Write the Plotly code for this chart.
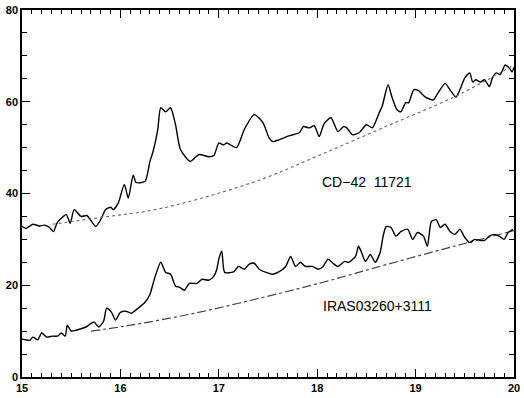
import plotly.graph_objects as go

# CD-42 11721 spectrum
cd_x = [15.00, 15.04, 15.11, 15.18, 15.23, 15.28, 15.32, 15.36, 15.45, 15.49, 15.53, 15.60, 15.66, 15.75,
        15.80, 15.85, 15.90, 15.93, 15.98, 16.04, 16.08, 16.13, 16.16, 16.25, 16.30, 16.33, 16.38, 16.41,
        16.46, 16.51, 16.56, 16.61, 16.71, 16.80, 16.90, 16.95, 17.00, 17.05, 17.08, 17.18, 17.26, 17.36,
        17.45, 17.51, 17.55, 17.61, 17.67, 17.72, 17.82, 17.86, 17.92, 17.97, 18.02, 18.07, 18.14, 18.21,
        18.27, 18.30, 18.36, 18.43, 18.50, 18.56, 18.63, 18.66, 18.72, 18.76, 18.81, 18.85, 18.90, 18.93,
        18.98, 19.03, 19.10, 19.18, 19.23, 19.30, 19.35, 19.41, 19.45, 19.50, 19.55, 19.58, 19.61, 19.66,
        19.70, 19.75, 19.78, 19.82, 19.86, 19.91, 19.95, 19.98, 20.00]
cd_y = [32.8, 32.4, 33.3, 32.9, 33.1, 32.6, 31.7, 33.7, 35.4, 33.5, 36.5, 35.0, 35.2, 32.8,
        34.3, 36.5, 37.0, 36.5, 38.0, 42.0, 39.0, 44.0, 42.4, 42.6, 47.0, 49.0, 54.0, 58.7,
        57.8, 58.7, 55.0, 49.6, 47.0, 48.5, 48.0, 48.3, 51.0, 50.6, 51.0, 50.0, 54.0, 57.2,
        55.4, 52.2, 51.3, 51.7, 52.2, 52.6, 53.3, 54.6, 54.3, 54.8, 52.4, 55.2, 56.5, 53.5,
        54.6, 54.3, 52.8, 53.3, 55.0, 54.3, 57.6, 59.0, 63.7, 61.0, 58.3, 57.8, 59.8, 59.8,
        62.6, 62.4, 61.0, 60.4, 62.0, 64.0, 62.6, 61.0, 62.6, 65.2, 66.3, 64.3, 64.8, 64.3,
        64.8, 63.3, 65.2, 66.3, 65.9, 68.0, 67.4, 66.5, 67.6]

# CD-42 11721 continuum
cdc_x = [15.31, 15.81, 16.31, 16.81, 17.46, 18.05, 18.72, 19.39, 19.73, 20.00]
cdc_y = [33.3, 34.8, 36.3, 38.9, 43.3, 48.6, 54.8, 61.0, 64.8, 68.0]

# IRAS03260+3111 spectrum
ir_x = [15.00, 15.08, 15.11, 15.16, 15.20, 15.25, 15.31, 15.36, 15.40, 15.44, 15.46, 15.50, 15.55, 15.65,
        15.73, 15.78, 15.83, 15.86, 15.91, 15.95, 16.00, 16.06, 16.11, 16.18, 16.25, 16.30, 16.35, 16.41,
        16.46, 16.51, 16.56, 16.60, 16.65, 16.70, 16.78, 16.83, 16.90, 16.95, 16.98, 17.00, 17.03, 17.06,
        17.15, 17.20, 17.26, 17.31, 17.36, 17.41, 17.48, 17.55, 17.61, 17.68, 17.73, 17.78, 17.83, 17.88,
        17.95, 18.01, 18.06, 18.11, 18.16, 18.21, 18.28, 18.32, 18.39, 18.42, 18.45, 18.49, 18.54, 18.59,
        18.64, 18.67, 18.70, 18.75, 18.80, 18.85, 18.92, 18.97, 19.02, 19.08, 19.12, 19.16, 19.21, 19.25,
        19.30, 19.35, 19.40, 19.45, 19.50, 19.55, 19.60, 19.65, 19.70, 19.75, 19.80, 19.85, 19.90, 19.94,
        19.99]
ir_y = [8.3, 8.0, 8.7, 8.1, 9.6, 8.7, 8.9, 8.9, 9.6, 8.9, 11.3, 10.0, 10.2, 10.9,
        12.0, 10.9, 12.2, 15.0, 14.1, 12.4, 14.1, 14.3, 13.9, 15.0, 16.3, 18.0, 21.7, 25.0,
        22.8, 22.4, 19.8, 19.6, 18.9, 20.4, 20.4, 21.3, 21.1, 22.0, 23.5, 25.7, 27.4, 22.8,
        22.9, 24.1, 23.5, 24.6, 24.8, 23.5, 22.8, 22.4, 22.9, 24.1, 26.3, 24.1, 25.0, 24.1,
        24.1, 23.5, 24.1, 25.7, 24.8, 24.1, 25.2, 25.0, 26.3, 28.5, 27.2, 25.2, 26.7, 25.0,
        27.2, 30.7, 32.8, 32.6, 30.7, 31.7, 32.2, 30.0, 31.5, 30.7, 28.5, 33.9, 34.3, 32.6,
        33.3, 31.7, 31.1, 32.2, 30.4, 29.3, 30.0, 29.8, 29.8, 30.7, 31.1, 30.7, 30.0, 31.5,
        32.2]

# IRAS03260+3111 continuum
irc_x = [15.70, 16.05, 16.71, 17.38, 18.05, 18.72, 19.39, 20.00]
irc_y = [10.0, 11.1, 13.7, 17.0, 20.6, 24.6, 28.5, 31.9]

labels = ["CD\u221242  11721", "IRAS03260+3111"]
label_x = [18.51, 18.61]
label_y = [42.6, 15.4]

x_ticks = [15, 16, 17, 18, 19, 20]
y_ticks = [0, 20, 40, 60, 80]

fig = go.Figure()
# upper continuum drawn on the mirrored (top/right) axes, which share the same ranges
fig.add_trace(go.Scatter(x=cdc_x, y=cdc_y, mode="lines", xaxis="x2", yaxis="y2",
                         line=dict(color="#666666", width=1.1, dash="dot", shape="spline")))
fig.add_trace(go.Scatter(x=irc_x, y=irc_y, mode="lines",
                         line=dict(color="#444444", width=1.2, dash="dashdot", shape="spline")))
fig.add_trace(go.Scatter(x=cd_x, y=cd_y, mode="lines",
                         line=dict(color="black", width=1.4, shape="spline", smoothing=0.6)))
fig.add_trace(go.Scatter(x=ir_x, y=ir_y, mode="lines",
                         line=dict(color="black", width=1.4, shape="spline", smoothing=0.6)))

for t, lx, ly in zip(labels, label_x, label_y):
    fig.add_annotation(x=lx, y=ly, text=t, showarrow=False,
                       font=dict(family="Liberation Sans, Arial", size=14, color="black"))

tickfont = dict(family="Liberation Sans, Arial", size=11, color="black", weight="bold")
common = dict(showgrid=False, zeroline=False, showline=True, linecolor="black", linewidth=1.5,
              ticks="inside", tickcolor="black", tickwidth=1)
xminor = dict(dtick=0.1, ticks="inside", ticklen=4, tickcolor="black", tickwidth=1)
yminor = dict(dtick=5, ticks="inside", ticklen=5, tickcolor="black", tickwidth=1)

fig.update_layout(
    xaxis=dict(range=[15, 20], tickvals=x_ticks, ticklen=8, minor=xminor, tickfont=tickfont,
               ticklabeloverflow="allow", **common),
    yaxis=dict(range=[0, 80], tickvals=y_ticks, ticklen=8, minor=yminor, tickfont=tickfont,
               ticklabeloverflow="allow", **common),
    xaxis2=dict(range=[15, 20], tickvals=x_ticks, ticklen=8, minor=xminor, overlaying="x", side="top",
                showticklabels=False, **common),
    yaxis2=dict(range=[0, 80], tickvals=y_ticks, ticklen=8, minor=yminor, overlaying="y", side="right",
                showticklabels=False, **common),
    width=524, height=398, margin=dict(l=22, r=4, t=9, b=20),
    paper_bgcolor="white", plot_bgcolor="white", showlegend=False)

fig.write_html("out.html", config={"displayModeBar": False},
               post_script="document.body.style.margin='0';")
